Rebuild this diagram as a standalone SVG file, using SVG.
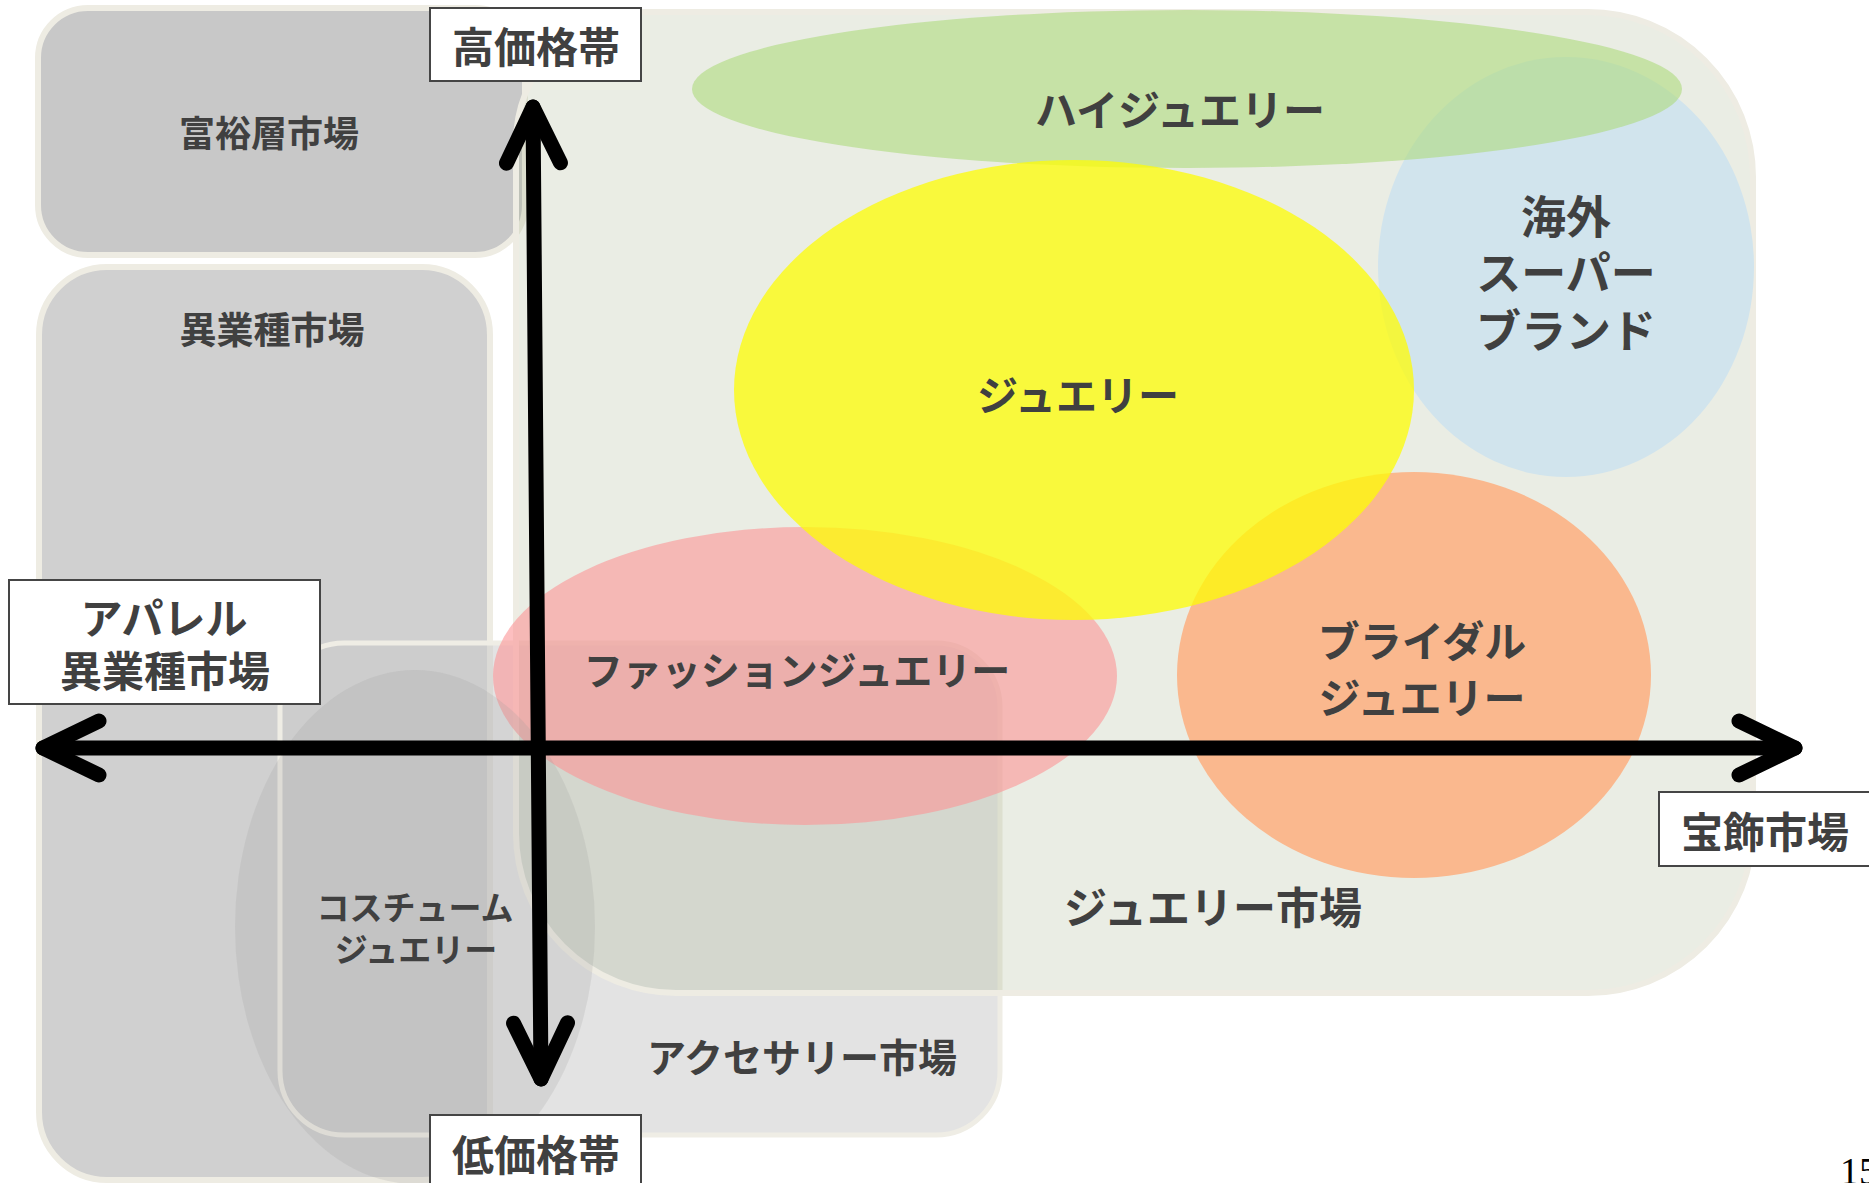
<svg xmlns="http://www.w3.org/2000/svg" width="1869" height="1183" viewBox="0 0 1869 1183">
<style>
.t{font-family:"Noto Sans CJK JP","Noto Sans CJK SC",sans-serif;font-weight:700;fill:#404040;text-anchor:middle;dominant-baseline:central}
.market{stroke:#eeece3;stroke-width:6}
.lbl{fill:#ffffff;stroke:#454545;stroke-width:2}
.axis{stroke:#000;stroke-width:15;stroke-linecap:round;fill:none}
</style>
<defs>
<marker id="chev" markerUnits="userSpaceOnUse" orient="auto-start-reverse" refX="0" refY="0" markerWidth="200" markerHeight="200" viewBox="-100 -100 200 200" overflow="visible">
<path d="M -56 -27 L 0 0 L -56 27" fill="none" stroke="#000" stroke-width="15" stroke-linecap="round" stroke-linejoin="round"/>
</marker>
</defs>
<rect width="1869" height="1183" fill="#ffffff"/>

<g id="wealthy-market">
<rect class="market" x="38" y="8" width="487" height="247" rx="50" fill="#c8c8c8"/>
<text class="t" x="269" y="131" font-size="36">富裕層市場</text>
</g>

<g id="other-industry-market">
<rect class="market" x="39" y="267" width="451" height="913" rx="68" fill="#d0d0d0"/>
<text class="t" x="272" y="328" font-size="37">異業種市場</text>
</g>

<g id="accessory-market">
<rect x="280" y="643" width="720" height="492" rx="64" fill="#cacaca" fill-opacity="0.53" stroke="#efede5" stroke-width="5"/>
</g>

<g id="jewelry-market">
<path class="market" d="M 646 12 H 1588 A 165 165 0 0 1 1753 177 V 828 A 165 165 0 0 1 1588 993 H 676 A 160 160 0 0 1 516 833 V 142 A 130 130 0 0 1 646 12 Z" fill="rgb(155,171,127)" fill-opacity="0.21" stroke-width="5"/>
</g>

<g id="overseas-super-brand">
<ellipse cx="1566" cy="267" rx="188" ry="210" fill="#d1e4ed"/>
</g>

<g id="high-jewelry">
<ellipse cx="1187" cy="89" rx="495" ry="79" fill="#aedb7d" fill-opacity="0.6"/>
</g>

<g id="bridal-jewelry">
<ellipse cx="1414" cy="675" rx="237" ry="203" fill="#fab88e"/>
</g>

<g id="fashion-jewelry">
<ellipse cx="805" cy="676" rx="312" ry="149" fill="rgb(252,149,150)" fill-opacity="0.6"/>
</g>

<g id="jewelry">
<ellipse cx="1074" cy="390" rx="340" ry="230" fill="#fdfc04" fill-opacity="0.75"/>
</g>

<g id="costume-jewelry">
<ellipse cx="415" cy="927" rx="180" ry="257" fill="#9a9a9a" fill-opacity="0.2"/>
</g>

<g id="labels-inside">
<text class="t" x="1180" y="107" font-size="42">ハイジュエリー</text>
<text class="t" font-size="45"><tspan x="1566" y="214">海外</tspan><tspan x="1566" y="270">スーパー</tspan><tspan x="1566" y="328">ブランド</tspan></text>
<text class="t" x="1078" y="393" font-size="41">ジュエリー</text>
<text class="t" x="797" y="668" font-size="39">ファッションジュエリー</text>
<text class="t" font-size="42"><tspan x="1422" y="638">ブライダル</tspan><tspan x="1422" y="695">ジュエリー</tspan></text>
<text class="t" x="1213" y="905" font-size="43">ジュエリー市場</text>
<text class="t" x="802" y="1055" font-size="39">アクセサリー市場</text>
<text class="t" font-size="33"><tspan x="415" y="906">コスチューム</tspan><tspan x="416" y="948">ジュエリー</tspan></text>
</g>

<g id="connectors">
<line class="axis" x1="43" y1="748" x2="1795" y2="748" marker-start="url(#chev)" marker-end="url(#chev)"/>
<line class="axis" x1="533" y1="107" x2="541" y2="1079" marker-start="url(#chev)" marker-end="url(#chev)"/>
</g>

<g id="high-price">
<rect class="lbl" x="430" y="8" width="211" height="73"/>
<text class="t" x="536" y="44" font-size="42">高価格帯</text>
</g>

<g id="low-price">
<rect class="lbl" x="430" y="1115" width="211" height="80"/>
<text class="t" x="536" y="1152" font-size="42">低価格帯</text>
</g>

<g id="apparel-market">
<rect class="lbl" x="9" y="580" width="311" height="124"/>
<text class="t" font-size="42"><tspan x="164" y="615">アパレル</tspan><tspan x="165" y="668">異業種市場</tspan></text>
</g>

<g id="jewellery-trade-market">
<rect class="lbl" x="1659" y="792" width="220" height="74" stroke="#3f3f12"/>
<text class="t" x="1765" y="829" font-size="42">宝飾市場</text>
</g>

<text x="1840" y="1184" font-family="'Liberation Serif',serif" font-size="38" fill="#000">15</text>
</svg>
